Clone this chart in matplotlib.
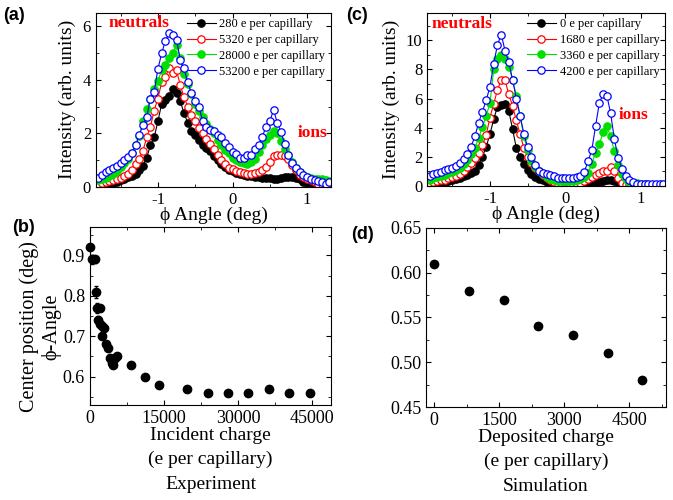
import numpy as np
import matplotlib
matplotlib.use("Agg")
import matplotlib.pyplot as plt
from matplotlib.ticker import MultipleLocator

plt.rcParams['font.family'] = ['Liberation Serif', 'DejaVu Serif']
plt.rcParams['axes.unicode_minus'] = False
plt.rcParams['xtick.direction'] = 'in'
plt.rcParams['ytick.direction'] = 'in'
plt.rcParams['xtick.top'] = True
plt.rcParams['ytick.right'] = True

# ---- data ----
angle = np.round(np.arange(-1.80, 1.301, 0.05), 2)

a_labels = ["280 e per capillary", "5320 e per capillary",
            "28000 e per capillary", "53200 e per capillary"]
a_280 = [0.06, 0.08, 0.10, 0.13, 0.16, 0.20, 0.25, 0.30, 0.36, 0.42, 0.50, 0.62, 0.80,
         1.10, 1.55, 1.85, 2.45, 3.10, 3.25, 3.40, 3.65, 3.50, 3.20, 2.75, 2.40, 2.10,
         1.94, 1.75, 1.58, 1.45, 1.35, 1.15, 1.00, 0.85, 0.75, 0.65, 0.58, 0.52, 0.48,
         0.45, 0.42, 0.40, 0.38, 0.37, 0.35, 0.33, 0.32, 0.31, 0.30, 0.33, 0.36, 0.37,
         0.37, 0.35, 0.28, 0.20, 0.15, 0.12, 0.10, 0.08, 0.06, 0.05, 0.04]
a_5320 = [0.12, 0.15, 0.18, 0.22, 0.25, 0.30, 0.35, 0.40, 0.50, 0.65, 0.85, 1.05, 1.35,
          1.85, 2.25, 2.85, 3.30, 3.90, 4.10, 4.45, 4.25, 4.35, 3.80, 3.35, 3.00, 2.70,
          2.45, 2.20, 2.00, 1.80, 1.62, 1.40, 1.20, 1.00, 0.85, 0.72, 0.66, 0.60, 0.56,
          0.53, 0.50, 0.50, 0.52, 0.55, 0.62, 0.75, 0.95, 1.15, 1.20, 1.20, 1.15, 1.05,
          0.82, 0.62, 0.45, 0.36, 0.30, 0.25, 0.18, 0.12, 0.10, 0.08, 0.07]
a_28000 = [0.25, 0.28, 0.32, 0.40, 0.48, 0.60, 0.75, 0.88, 1.05, 1.25, 1.55, 1.90, 2.45,
           2.90, 3.30, 3.65, 3.95, 4.35, 4.55, 4.80, 5.00, 5.30, 4.80, 4.20, 3.85, 3.45,
           3.10, 2.85, 2.60, 2.35, 2.15, 2.00, 1.75, 1.55, 1.38, 1.25, 1.10, 1.00, 0.94,
           0.90, 0.87, 0.92, 1.05, 1.30, 1.55, 1.80, 1.95, 2.10, 2.00, 1.70, 1.40, 1.20,
           0.95, 0.70, 0.55, 0.45, 0.38, 0.34, 0.31, 0.30, 0.28, 0.25, 0.24]
a_53200 = [0.35, 0.45, 0.55, 0.62, 0.70, 0.78, 0.90, 1.00, 1.12, 1.25, 1.55, 1.95, 2.30,
           2.60, 3.30, 3.55, 4.40, 4.98, 5.45, 5.73, 5.66, 5.50, 4.73, 4.42, 3.90, 3.50,
           3.20, 3.00, 2.45, 2.25, 2.13, 2.10, 1.94, 1.85, 1.65, 1.48, 1.31, 1.22, 1.10,
           1.08, 1.19, 1.19, 1.40, 1.55, 1.88, 2.25, 2.45, 2.87, 2.40, 2.05, 1.60, 1.20,
           0.90, 0.70, 0.55, 0.45, 0.37, 0.30, 0.25, 0.21, 0.18, 0.13, 0.17]

c_labels = ["0 e per capillary", "1680 e per capillary",
            "3360 e per capillary", "4200 e per capillary"]
c_0 = [0.10, 0.12, 0.18, 0.22, 0.28, 0.35, 0.42, 0.50, 0.58, 0.68, 0.76, 0.87, 1.05,
       1.45, 2.00, 2.70, 3.55, 4.60, 5.45, 5.58, 5.65, 5.15, 3.90, 2.60, 2.00, 1.50,
       1.10, 0.82, 0.60, 0.48, 0.38, 0.28, 0.20, 0.15, 0.10, 0.08, 0.06, 0.05, 0.05,
       0.05, 0.06, 0.08, 0.10, 0.15, 0.22, 0.30, 0.35, 0.40, 0.40, 0.35, 0.25, 0.15,
       0.08, 0.04, 0.02, 0.01, 0.01, 0.00, 0.00, 0.00, 0.00, 0.00, 0.00]
c_1680 = [0.20, 0.28, 0.33, 0.38, 0.44, 0.52, 0.60, 0.72, 0.85, 1.05, 1.33, 1.60, 1.95,
          2.25, 2.80, 3.50, 4.70, 5.65, 6.60, 7.30, 7.25, 6.30, 5.50, 4.50, 3.55, 2.60,
          2.00, 1.55, 1.25, 1.00, 0.75, 0.55, 0.40, 0.25, 0.15, 0.10, 0.08, 0.07, 0.06,
          0.10, 0.20, 0.35, 0.48, 0.60, 0.75, 0.90, 1.00, 1.05, 1.30, 1.05, 0.55, 0.20,
          0.08, 0.04, 0.02, 0.01, 0.00, 0.00, 0.00, 0.00, 0.00, 0.00, 0.00]
c_3360 = [0.42, 0.52, 0.60, 0.70, 0.78, 0.88, 0.97, 1.08, 1.25, 1.50, 1.80, 2.20, 2.60,
          3.30, 4.05, 4.80, 5.70, 8.00, 8.70, 9.00, 8.75, 8.20, 7.30, 6.20, 4.80, 3.40,
          2.45, 1.70, 1.30, 1.05, 0.80, 0.65, 0.50, 0.42, 0.36, 0.32, 0.30, 0.32, 0.35,
          0.40, 0.45, 0.65, 0.90, 1.50, 2.30, 2.85, 3.70, 4.10, 3.40, 2.40, 1.45, 0.85,
          0.50, 0.30, 0.22, 0.18, 0.16, 0.12, 0.10, 0.08, 0.07, 0.06, 0.05]
c_4200 = [0.70, 0.80, 0.87, 0.98, 1.10, 1.15, 1.22, 1.35, 1.55, 1.85, 2.20, 2.70, 3.40,
          4.35, 5.10, 5.90, 6.80, 8.40, 9.70, 10.40, 9.30, 8.50, 7.30, 6.00, 4.80, 3.60,
          2.65, 2.00, 1.45, 1.05, 0.92, 0.82, 0.74, 0.66, 0.58, 0.53, 0.52, 0.53, 0.58,
          0.64, 0.70, 0.95, 1.70, 2.45, 4.10, 5.70, 6.30, 6.20, 5.00, 3.20, 1.95, 1.20,
          0.70, 0.42, 0.25, 0.17, 0.12, 0.11, 0.11, 0.11, 0.11, 0.11, 0.11]

b_charge = [100, 500, 1000, 1200, 1350, 2000, 1550, 2000, 2500, 2800, 2500, 3200, 3600,
            4000, 4400, 4700, 5100, 5400, 8400, 11100, 14000, 19600, 23800, 27900,
            32000, 36200, 40300, 44500]
b_center = [0.92, 0.89, 0.89, 0.81, 0.77, 0.77, 0.74, 0.73, 0.725, 0.72, 0.70, 0.68,
            0.67, 0.645, 0.635, 0.63, 0.645, 0.65, 0.63, 0.60, 0.58, 0.57, 0.56, 0.56,
            0.56, 0.57, 0.56, 0.56]
b_err = [0.008, 0.012, 0.008, 0.015, 0.012, 0.008, 0.010, 0.006, 0.006, 0.006, 0.008,
         0.006, 0.006, 0.006, 0.006, 0.006, 0.005, 0.005, 0.005, 0.005, 0.005, 0.004,
         0.004, 0.004, 0.004, 0.004, 0.004, 0.004]

d_charge = [0, 800, 1600, 2400, 3200, 4000, 4800]
d_center = [0.61, 0.58, 0.57, 0.54, 0.53, 0.51, 0.48]

styles = [dict(color='black', mfc='black', mec='black'),
          dict(color='red', mfc='white', mec='red'),
          dict(color='#00e000', mfc='#00e000', mec='#00e000'),
          dict(color='blue', mfc='white', mec='blue')]

fig = plt.figure(figsize=(6.73, 5.0), dpi=100)
ax_a = fig.add_axes([0.1426, 0.626, 0.3492, 0.3486])
ax_c = fig.add_axes([0.635, 0.628, 0.353, 0.3466])
ax_b = fig.add_axes([0.1337, 0.19, 0.3581, 0.356])
ax_d = fig.add_axes([0.633, 0.186, 0.3566, 0.358])


def spectrum(ax, series, labels, ylim, ymajor, ypad):
    for y, lab, st in zip(series, labels, styles):
        ax.plot(angle, y, '-o', lw=0.8, ms=5.3, mew=0.9, label=lab, **st)
    ax.set_xlim(-1.83, 1.32)
    ax.set_ylim(*ylim)
    ax.xaxis.set_major_locator(MultipleLocator(1))
    ax.xaxis.set_minor_locator(MultipleLocator(0.5))
    ax.yaxis.set_major_locator(MultipleLocator(ymajor))
    ax.yaxis.set_minor_locator(MultipleLocator(ymajor / 2))
    ax.tick_params(labelsize=12)
    ax.set_xlabel("ϕ Angle (deg)", fontsize=14, labelpad=-1)
    ax.set_ylabel("Intensity (arb. units)", fontsize=14, labelpad=ypad)
    ax.legend(loc='upper right', frameon=False, fontsize=9, handlelength=2.3,
              handletextpad=0.3, labelspacing=0.3, borderaxespad=0.35,
              borderpad=0.1)


spectrum(ax_a, [a_280, a_5320, a_28000, a_53200], a_labels, (0, 6.5), 2, 5)
spectrum(ax_c, [c_0, c_1680, c_3360, c_4200], c_labels, (0, 11.9), 2, 4.5)
ax_a.text(-1.66, 6.1, "neutrals", color='red', fontsize=12.5, fontweight='bold', va='center')
ax_a.text(0.88, 2.0, "ions", color='red', fontsize=12.5, fontweight='bold', va='center')
ax_c.text(-1.78, 11.1, "neutrals", color='red', fontsize=12.5, fontweight='bold', va='center')
ax_c.text(0.70, 4.9, "ions", color='red', fontsize=12.5, fontweight='bold', va='center')

ax_b.errorbar(b_charge, b_center, yerr=b_err, fmt='o', color='black', ms=6,
              elinewidth=0.8, capsize=1.5, clip_on=False)
ax_b.set_xlim(0, 48800)
ax_b.set_ylim(0.53, 0.97)
ax_b.xaxis.set_major_locator(MultipleLocator(15000))
ax_b.xaxis.set_minor_locator(MultipleLocator(7500))
ax_b.yaxis.set_major_locator(MultipleLocator(0.1))
ax_b.yaxis.set_minor_locator(MultipleLocator(0.05))
ax_b.set_yticks([0.6, 0.7, 0.8, 0.9])
ax_b.tick_params(labelsize=13)
ax_b.set_xlabel("Incident charge\n(e per capillary)\nExperiment", fontsize=14,
                linespacing=1.55, labelpad=0)
ax_b.set_ylabel("Center position (deg)\nϕ-Angle", fontsize=14.5, linespacing=1.2)
ax_b.yaxis.set_label_coords(-0.118, 0.44)

ax_d.plot(d_charge, d_center, 'o', color='black', ms=6)
ax_d.set_xlim(-190, 5350)
ax_d.set_ylim(0.45, 0.65)
ax_d.xaxis.set_major_locator(MultipleLocator(1500))
ax_d.xaxis.set_minor_locator(MultipleLocator(750))
ax_d.yaxis.set_major_locator(MultipleLocator(0.05))
ax_d.yaxis.set_minor_locator(MultipleLocator(0.025))
ax_d.yaxis.set_major_formatter(matplotlib.ticker.FormatStrFormatter('%.2f'))
ax_d.tick_params(labelsize=13)
ax_d.set_xlabel("Deposited charge\n(e per capillary)\nSimulation", fontsize=14,
                linespacing=1.55, labelpad=0)

for ax in (ax_a, ax_b, ax_c, ax_d):
    ax.tick_params(which='major', length=3.5, width=0.8)
    ax.tick_params(which='minor', length=2, width=0.6)
    for s in ax.spines.values():
        s.set_linewidth(0.8)

for txt, x, y in [("(a)", 0.005, 0.985), ("(c)", 0.515, 0.985),
                  ("(b)", 0.018, 0.562), ("(d)", 0.522, 0.548)]:
    fig.text(x, y, txt, fontsize=13, fontweight='bold', va='top',
             family=['Liberation Sans', 'DejaVu Sans'])

fig.savefig("out.png", dpi=100)
